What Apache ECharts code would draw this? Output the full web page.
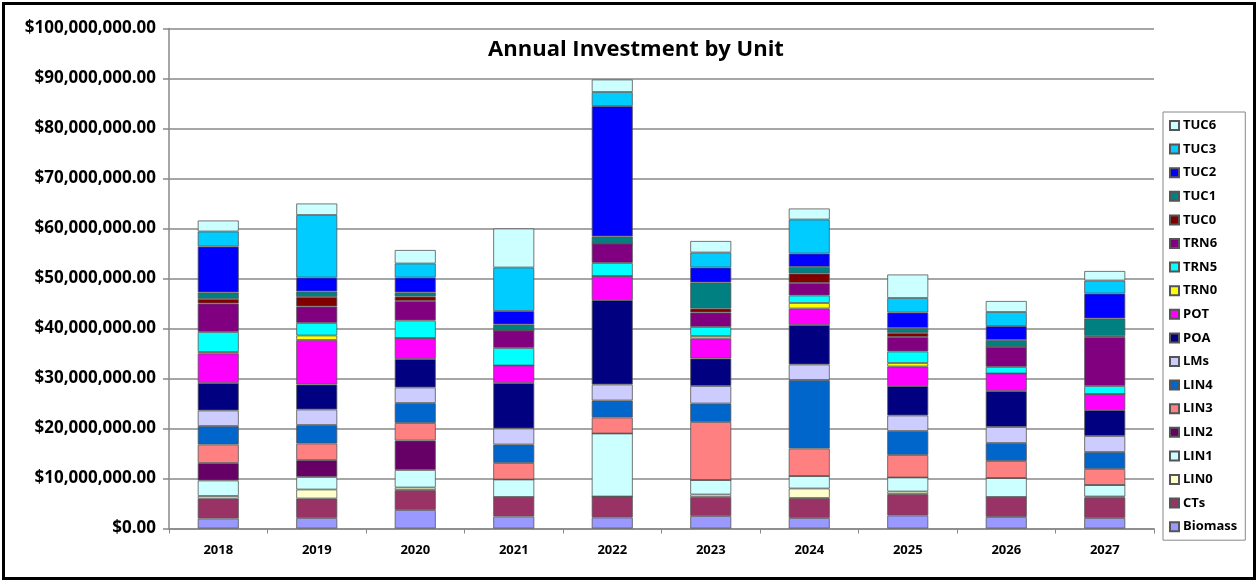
<!DOCTYPE html>
<html>
<head>
<meta charset="utf-8">
<script src="https://cdn.jsdelivr.net/npm/echarts@6/dist/echarts.min.js"></script>
<style>
  html, body { margin: 0; padding: 0; background: #fff; }
  #wrap { position: relative; width: 1260px; height: 584px; }
  #chart { position: absolute; left: 0; top: 0; width: 1260px; height: 584px; }
  #frame { position: absolute; left: 2px; top: 2px; width: 1254px; height: 578px;
           border: 3px solid #000; box-sizing: border-box; pointer-events: none; }
</style>
</head>
<body>
<div id="wrap">
  <div id="chart"></div>
  <div id="frame"></div>
</div>
<script>
// Investment per unit and year, in millions of dollars
const years = ['2018', '2019', '2020', '2021', '2022', '2023', '2024', '2025', '2026', '2027'];

const Biomass = [2.0, 2.1, 3.7, 2.4, 2.2, 2.5, 2.1, 2.6, 2.3, 2.1];
const CTs     = [4.0, 3.9, 4.0, 3.9, 4.2, 3.8, 4.0, 4.3, 4.0, 4.1];
const LIN0    = [0.5, 1.8, 0.5, 0, 0, 0.5, 1.9, 0.5, 0, 0.2];
const LIN1    = [3.1, 2.5, 3.5, 3.5, 12.6, 2.9, 2.5, 2.8, 3.8, 2.3];
const LIN2    = [3.5, 3.4, 5.9, 0, 0, 0, 0, 0, 0, 0];
const LIN3    = [3.7, 3.3, 3.5, 3.3, 3.2, 11.6, 5.5, 4.5, 3.4, 3.2];
const LIN4    = [3.7, 3.7, 4.0, 3.7, 3.4, 3.7, 13.7, 4.8, 3.6, 3.4];
const LMs     = [3.1, 3.1, 3.1, 3.2, 3.2, 3.5, 3.1, 3.1, 3.2, 3.2];
const POA     = [5.5, 5.0, 5.7, 9.1, 16.9, 5.5, 7.9, 5.9, 7.2, 5.2];
const POT     = [5.9, 8.9, 4.2, 3.5, 4.8, 4.0, 3.3, 3.9, 3.5, 3.2];
const TRN0    = [0.3, 0.9, 0, 0, 0, 0.5, 1.1, 0.7, 0, 0];
const TRN5    = [4.0, 2.5, 3.5, 3.5, 2.6, 1.8, 1.5, 2.3, 1.3, 1.6];
const TRN6    = [5.7, 3.3, 3.9, 3.5, 3.9, 2.9, 2.5, 2.9, 4.0, 9.8];
const TUC0    = [0.9, 1.9, 0.9, 0, 0, 0.8, 1.9, 0.8, 0, 0.2];
const TUC1    = [1.3, 1.1, 0.8, 1.2, 1.4, 5.2, 1.3, 1.0, 1.4, 3.5];
const TUC2    = [9.2, 2.8, 3.0, 2.7, 26.1, 3.0, 2.7, 3.1, 2.8, 5.0];
const TUC3    = [3.0, 12.5, 2.8, 8.7, 2.8, 3.0, 6.8, 2.9, 2.8, 2.6];
const TUC6    = [2.2, 2.3, 2.7, 7.8, 2.5, 2.3, 2.2, 4.7, 2.2, 1.9];

// Stack order, bottom to top
const units = [
  ['Biomass', Biomass, '#9999FF'],
  ['CTs',     CTs,     '#993366'],
  ['LIN0',    LIN0,    '#FFFFCC'],
  ['LIN1',    LIN1,    '#CCFFFF'],
  ['LIN2',    LIN2,    '#660066'],
  ['LIN3',    LIN3,    '#FF8080'],
  ['LIN4',    LIN4,    '#0066CC'],
  ['LMs',     LMs,     '#CCCCFF'],
  ['POA',     POA,     '#000080'],
  ['POT',     POT,     '#FF00FF'],
  ['TRN0',    TRN0,    '#FFFF00'],
  ['TRN5',    TRN5,    '#00FFFF'],
  ['TRN6',    TRN6,    '#800080'],
  ['TUC0',    TUC0,    '#800000'],
  ['TUC1',    TUC1,    '#008080'],
  ['TUC2',    TUC2,    '#0000FF'],
  ['TUC3',    TUC3,    '#00CCFF'],
  ['TUC6',    TUC6,    '#CCFFFF']
];

const FONT = '"Open Sans", "Liberation Sans", sans-serif';

function money(v) {
  return '$' + Number(v).toLocaleString('en-US', { minimumFractionDigits: 2, maximumFractionDigits: 2 });
}

const series = units.map(([name, vals, color]) => ({
  name: name,
  type: 'bar',
  stack: 'total',
  barWidth: 41,
  data: vals.map(v => v * 1e6),
  itemStyle: { color: color, borderColor: '#555', borderWidth: 0.8 },
  emphasis: { disabled: true }
}));

const chart = echarts.init(document.getElementById('chart'), null, { renderer: 'canvas' });
chart.setOption({
  animation: false,
  backgroundColor: '#fff',
  title: {
    text: 'Annual Investment by Unit',
    left: 631, top: 34, textAlign: 'center',
    textStyle: { fontFamily: FONT, fontWeight: 'bold', fontSize: 22, color: '#000' }
  },
  grid: { left: 169, right: 106, top: 28.5, bottom: 55.5, containLabel: false },
  legend: {
    orient: 'vertical',
    left: 1163, top: 112,
    data: units.map(u => u[0]).reverse(),
    itemWidth: 9, itemHeight: 9, itemGap: 10.6,
    icon: 'rect',
    padding: [7, 8, 7, 6],
    borderColor: '#888', borderWidth: 1,
    textStyle: { fontFamily: FONT, fontWeight: 'bold', fontSize: 13, color: '#000', padding: [0, 0, 0, -1] },
    selectedMode: false
  },
  xAxis: {
    type: 'category',
    data: years,
    axisLine: { lineStyle: { color: '#888', width: 1.5 } },
    axisTick: { show: true, length: 5, lineStyle: { color: '#888' } },
    axisLabel: { fontFamily: FONT, fontWeight: 'bold', fontSize: 13, color: '#000', margin: 15 }
  },
  yAxis: {
    type: 'value',
    min: 0, max: 100e6, interval: 10e6,
    axisLine: { show: true, lineStyle: { color: '#888', width: 1.5 } },
    axisTick: { show: true, length: 6, lineStyle: { color: '#888', width: 1.5 } },
    splitLine: { lineStyle: { color: '#888', width: 1.5 } },
    axisLabel: { fontFamily: FONT, fontWeight: 'bold', fontSize: 17, color: '#000', margin: 13,
                 formatter: money }
  },
  series: series
});
</script>
</body>
</html>
